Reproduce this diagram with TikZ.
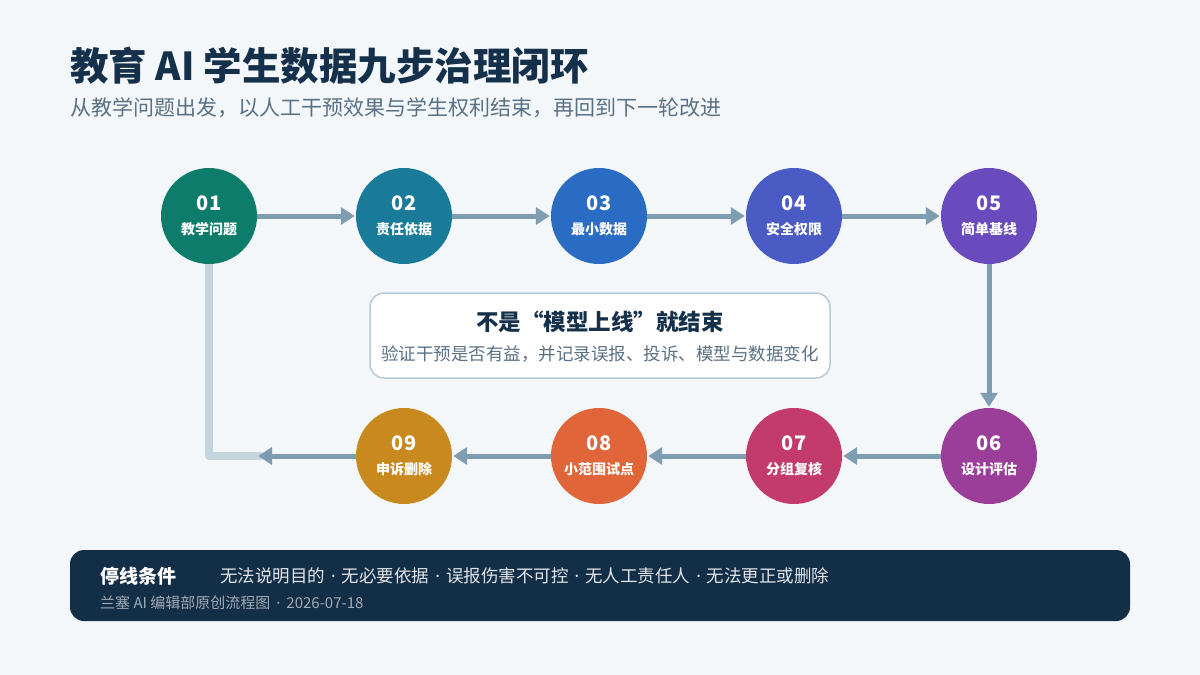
\documentclass[tikz,border=0pt]{standalone}
\usepackage{fontspec}
\setmainfont{Noto Sans CJK SC}
\newfontfamily\latinf{Noto Sans}
\usetikzlibrary{arrows.meta}
\definecolor{bg}{HTML}{F3F7FA}
\definecolor{ttl}{HTML}{15304A}
\definecolor{sub}{HTML}{5A7085}
\definecolor{arr}{HTML}{7E9DB0}
\definecolor{loopc}{HTML}{C5D5E0}
\definecolor{boxb}{HTML}{B5CCD8}
\definecolor{bar}{HTML}{132E47}
\definecolor{c1}{HTML}{0E7C6B}\definecolor{c2}{HTML}{1A7A9A}\definecolor{c3}{HTML}{2A6CC4}
\definecolor{c4}{HTML}{4A5BC4}\definecolor{c5}{HTML}{6A4BBE}\definecolor{c6}{HTML}{9A3E9A}
\definecolor{c7}{HTML}{C23B6A}\definecolor{c8}{HTML}{E0663A}\definecolor{c9}{HTML}{C88A1E}
\tikzset{
 step/.style={circle,minimum size=96pt,inner sep=0pt,text=white,align=center,font=\bfseries,fill=#1},
 flow/.style={draw=arr,line width=5pt,-{Triangle[length=14pt,width=17pt]},shorten >=1pt},
}
\newcommand{\stp}[2]{{\fontsize{20}{22}\selectfont #1}\\{\fontsize{14}{16}\selectfont\rule{0pt}{23pt}#2}}
\newcommand{\dt}{{\latinf\hspace{6pt}·\hspace{6pt}}}
\begin{document}
\begin{tikzpicture}[x=1pt,y=-1pt]
\fill[bg] (0,0) rectangle (1200,675);
\useasboundingbox (0,0) rectangle (1200,675);
\node[anchor=west,text=ttl,font=\bfseries\fontsize{38.5}{44}\selectfont,inner sep=0pt] (t) at (70,66) {教育 AI 学生数据九步治理闭环};
\node[anchor=west,text=sub,font=\fontsize{21}{24}\selectfont,inner sep=0pt] (s) at (70,108) {从教学问题出发，以人工干预效果与学生权利结束，再回到下一轮改进};
\coordinate (corner) at (209,456);
\coordinate (lend) at (258,456);
\draw[draw=loopc,line width=8pt,line join=round] (209,250) -- (corner) -- (262,456);
\node[step=c1] (n1) at (209,216) {\stp{01}{教学问题}};
\node[step=c2] (n2) at (404,216) {\stp{02}{责任依据}};
\node[step=c3] (n3) at (599,216) {\stp{03}{最小数据}};
\node[step=c4] (n4) at (794,216) {\stp{04}{安全权限}};
\node[step=c5] (n5) at (989,216) {\stp{05}{简单基线}};
\node[step=c6] (n6) at (989,456) {\stp{06}{设计评估}};
\node[step=c7] (n7) at (794,456) {\stp{07}{分组复核}};
\node[step=c8] (n8) at (599,456) {\stp{08}{小范围试点}};
\node[step=c9] (n9) at (404,456) {\stp{09}{申诉删除}};
\foreach \a/\b in {n1/n2,n2/n3,n3/n4,n4/n5,n5/n6,n6/n7,n7/n8,n8/n9} \draw[flow] (\a) -- (\b);
\draw[flow,shorten >=0pt] (n9) -- (lend);
\draw[draw=boxb,line width=1.5pt,fill=white,rounded corners=14pt] (370,293) rectangle (830,378);
\node[text=ttl,font=\bfseries\fontsize{22.5}{26}\selectfont] (m1) at (600,322) {不是“模型上线”就结束};
\node[text=sub,font=\fontsize{17.5}{20}\selectfont] (m2) at (600,354) {验证干预是否有益，并记录误报、投诉、模型与数据变化};
\fill[bar,rounded corners=14pt] (70,550) rectangle (1130,621);
\node[anchor=west,text=white,font=\bfseries\fontsize{19}{22}\selectfont,inner sep=0pt] (b1) at (100,576) {停线条件};
\node[anchor=west,text=white!88!bar,font=\fontsize{17.5}{20}\selectfont,inner sep=0pt] (b2) at (220,576) {无法说明目的\dt 无必要依据\dt 误报伤害不可控\dt 无人工责任人\dt 无法更正或删除};
\node[anchor=west,text=white!60!bar,font=\fontsize{15}{17}\selectfont,inner sep=0pt] (b3) at (100,603) {兰塞 AI 编辑部原创流程图\dt 2026-07-18};
\end{tikzpicture}
\end{document}
